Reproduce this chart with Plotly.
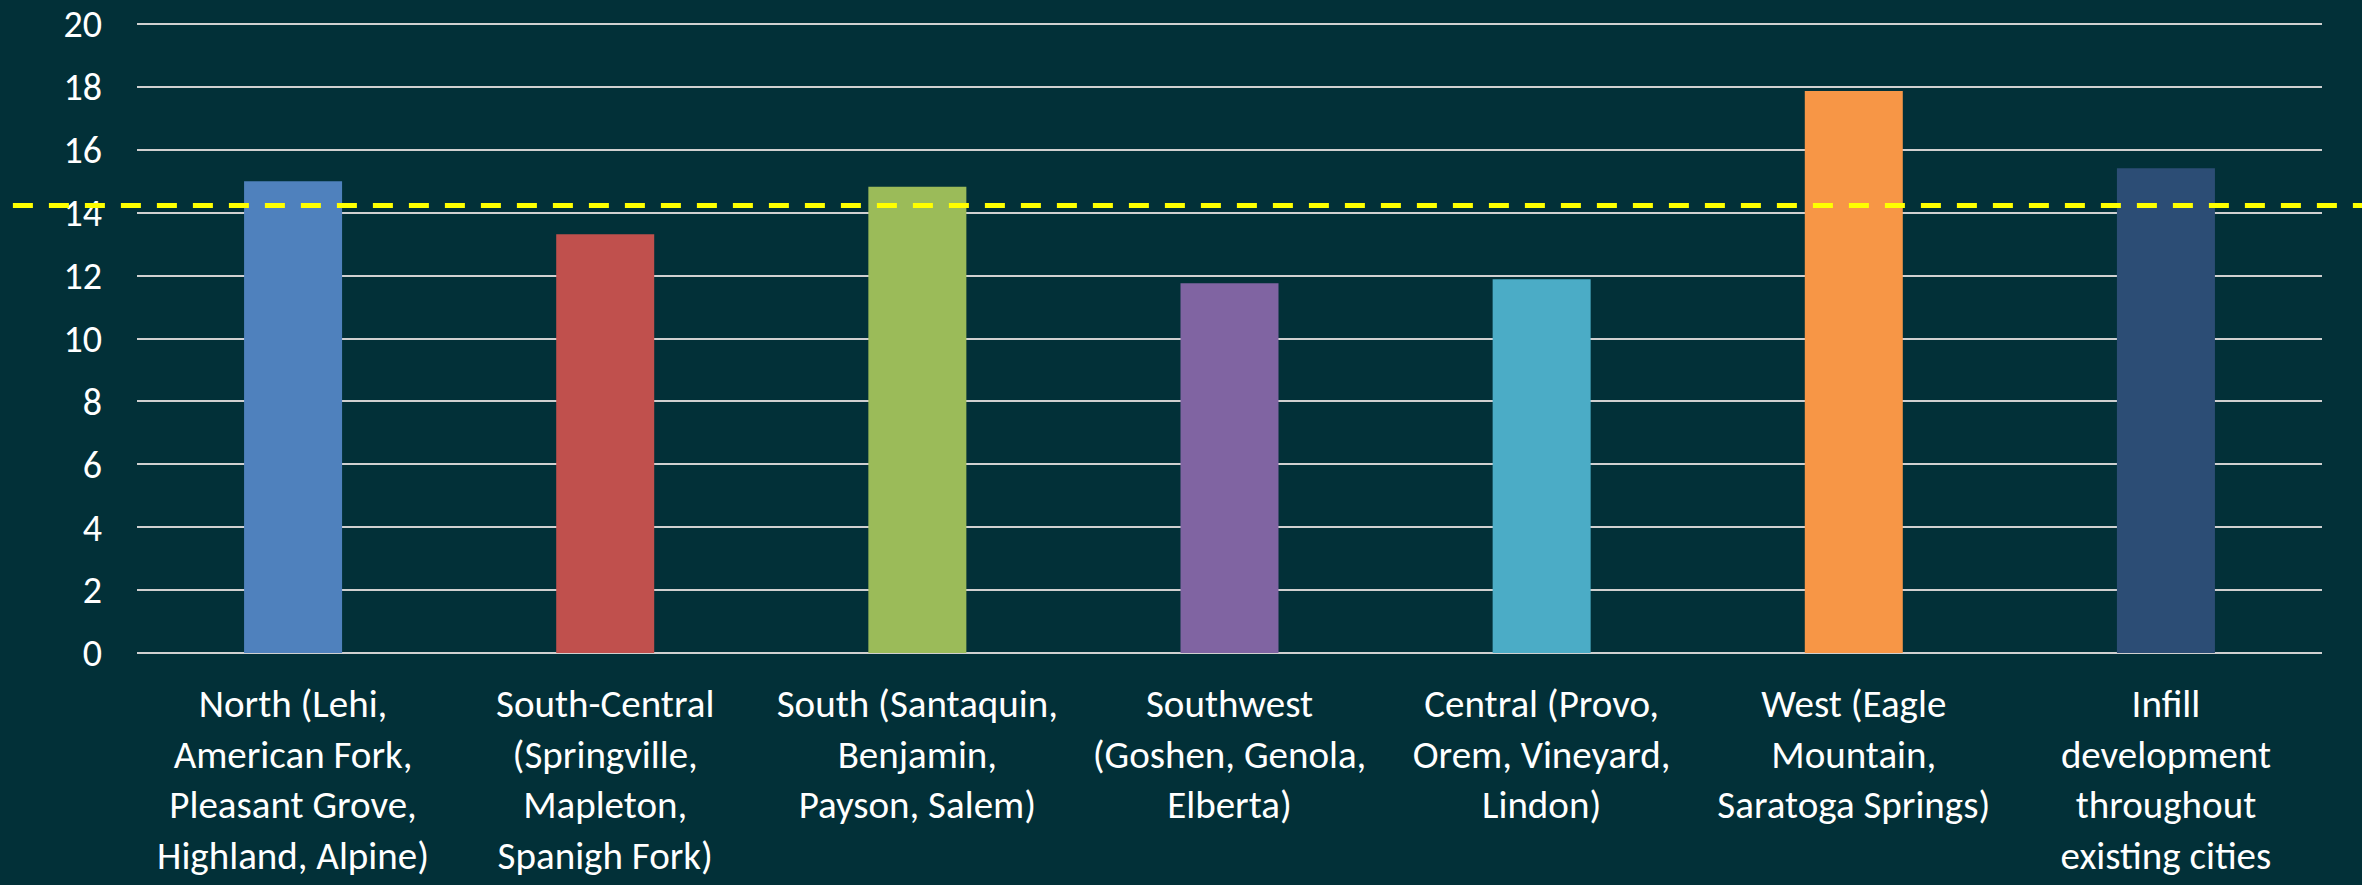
import plotly.graph_objects as go

categories = [
    "North (Lehi,<br>American Fork,<br>Pleasant Grove,<br>Highland, Alpine)",
    "South-Central<br>(Springville,<br>Mapleton,<br>Spanigh Fork)",
    "South (Santaquin,<br>Benjamin,<br>Payson, Salem)",
    "Southwest<br>(Goshen, Genola,<br>Elberta)",
    "Central (Provo,<br>Orem, Vineyard,<br>Lindon)",
    "West (Eagle<br>Mountain,<br>Saratoga Springs)",
    "Infill<br>development<br>throughout<br>existing cities",
]
values = [15.0, 13.32, 14.83, 11.76, 11.89, 17.87, 15.42]
bar_colors = ["#4F81BD", "#C0504D", "#9BBB59", "#8064A2", "#4BACC6", "#F79646", "#2C4D75"]
average_value = 14.23
y_ticks = [0, 2, 4, 6, 8, 10, 12, 14, 16, 18, 20]

BG = "#023038"
FONT = "Carlito, 'Liberation Sans Narrow', 'DejaVu Sans Condensed', Lato, sans-serif"

fig = go.Figure()
fig.add_trace(go.Bar(
    x=categories,
    y=values,
    marker=dict(color=bar_colors, line=dict(width=0)),
    showlegend=False,
))

fig.add_shape(
    type="line", xref="paper", yref="y",
    x0=-0.0568, x1=1.02, y0=average_value, y1=average_value,
    line=dict(color="#FFFF00", width=5, dash="20px,16px"),
    layer="above",
)

fig.update_layout(
    width=2362, height=885,
    paper_bgcolor=BG, plot_bgcolor=BG,
    margin=dict(l=137, r=40, t=21, b=232, autoexpand=False),
    bargap=0.686,
    font=dict(family=FONT, color="white", size=39),
    xaxis=dict(
        showgrid=False, showline=False, zeroline=False, automargin=False,
        tickfont=dict(family=FONT, size=39, color="white"),
        ticks="", ticklabelstandoff=24,
    ),
    yaxis=dict(
        range=[0, 20.1], tickvals=y_ticks, automargin=False,
        showgrid=True, gridcolor="#D0D0D0", gridwidth=2,
        zeroline=True, zerolinecolor="#D0D0D0", zerolinewidth=2,
        showline=False, ticks="",
        tickfont=dict(family=FONT, size=38, color="white"),
        ticklabelstandoff=34,
    ),
)

post = (
    "document.body.style.margin='0';"
    "document.body.style.padding='0';"
    "document.body.style.overflow='hidden';"
    f"document.body.style.background='{BG}';"
)
fig.write_html("out.html", post_script=post, config={"displayModeBar": False})
